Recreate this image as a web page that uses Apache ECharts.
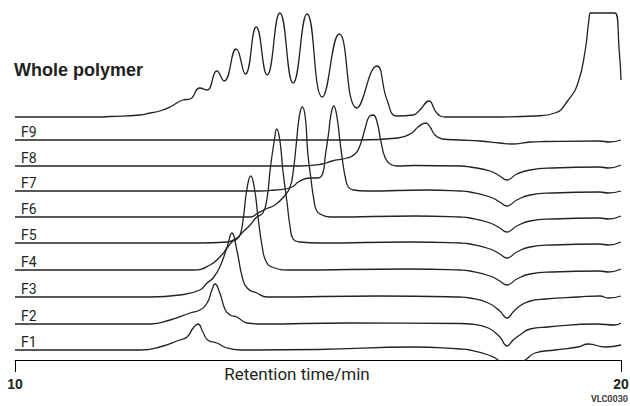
<!DOCTYPE html>
<html><head><meta charset="utf-8">
<script src="https://cdn.jsdelivr.net/npm/echarts@6/dist/echarts.min.js"></script>
<style>html,body{margin:0;padding:0;background:#fff}#c{width:630px;height:406px}</style>
</head><body><div id="c"></div>
<script>
// Retention time (min) vs detector signal height above each trace's own baseline
const traceNames = ['Whole polymer','F9','F8','F7','F6','F5','F4','F3','F2','F1'];
const baselineOffsets = [243,220,194,169,143,117,90,63,36,10];
const xTicks = [10,20];
const axisTitle = 'Retention time/min';

const wholePolymer = [[10.00,0],[11.40,0],[11.57,0.5],[12.06,2],[12.23,4],[12.39,6],[12.56,10],[12.77,17],[12.89,18],[13.05,29],[13.17,27],[13.33,46],[13.45,36],[13.65,68],[13.80,43],[13.98,90],[14.16,42],[14.37,104],[14.59,34],[14.82,103],[15.07,20],[15.35,83],[15.64,9],[15.97,51],[16.14,17],[16.30,1],[16.57,2],[16.68,7],[16.83,16],[16.96,4],[17.10,0],[18.00,0],[18.58,1],[18.91,4],[19.13,17],[19.29,34],[19.41,67],[19.47,97],[19.50,104],[19.90,104],[19.97,67],[20.00,37]];
const f9 = [[10,0],[15.69,0],[16.32,2],[16.55,7],[16.65,13],[16.78,17],[16.85,13],[16.93,5],[17.05,1],[17.34,0],[17.67,-1],[18.00,-3],[18.20,-4],[18.50,-2],[18.75,-1.5],[19.65,-1],[19.81,-2],[20,0]];
const f8 = [[10,0],[14.70,0],[15.07,2],[15.23,5],[15.48,8],[15.61,12],[15.69,20],[15.78,38],[15.84,49],[15.91,51],[15.97,45],[16.04,24],[16.11,8],[16.19,2],[16.30,0],[16.6,0.5],[17.34,0],[17.51,-1],[17.84,-5],[18.00,-10],[18.12,-14],[18.28,-8],[18.50,-4],[18.87,-2],[19.65,-1],[19.79,-2],[20,1]];
const f7 = [[10,0],[14.04,0],[14.29,1],[14.54,3],[14.70,10],[14.87,13],[15.00,13],[15.08,18],[15.12,35],[15.18,60],[15.21,75],[15.26,85],[15.31,75],[15.36,51],[15.41,28],[15.45,14],[15.50,4],[15.58,1],[15.81,0],[16.8,1],[17.34,0],[17.51,-1],[17.84,-6],[18.00,-11],[18.12,-15],[18.28,-9],[18.50,-4],[18.87,-2],[19.65,-1],[19.79,-2],[20,0]];
const f6 = [[10,0],[13.88,0],[14.01,4],[14.14,8],[14.29,12],[14.46,22],[14.54,30],[14.59,45],[14.64,72],[14.69,100],[14.74,110],[14.79,100],[14.83,65],[14.88,40],[14.93,18],[14.98,6],[15.07,2],[15.20,0],[16.6,1],[17.34,0],[17.51,-1],[17.84,-6],[18.00,-11],[18.12,-15],[18.28,-9],[18.50,-4],[18.87,-2],[19.65,-1],[19.79,-2],[20,1]];
const f5 = [[10,0],[13.05,0],[13.50,1],[13.66,5],[13.76,11],[13.88,18],[13.99,26],[14.09,30],[14.16,45],[14.21,73],[14.28,103],[14.32,114],[14.37,103],[14.42,73],[14.49,40],[14.54,16],[14.59,4],[14.70,1],[15.03,0],[16.5,1],[17.34,0],[17.51,-1],[17.84,-6],[18.00,-11],[18.12,-15],[18.28,-9],[18.50,-4],[18.87,-2],[19.65,-1],[19.79,-2],[20,1]];
const f4 = [[10,0],[12.94,0],[13.22,5],[13.38,13],[13.50,22],[13.58,28],[13.66,31],[13.72,36],[13.77,53],[13.83,82],[13.89,94],[13.95,82],[14.01,53],[14.08,23],[14.14,9],[14.24,3],[14.54,0],[16.5,1],[17.34,0],[17.51,-1],[17.84,-6],[18.00,-11],[18.12,-15],[18.28,-9],[18.50,-4],[18.87,-2],[19.65,-1],[19.79,-2],[20,1]];
const f3 = [[10,0],[12.23,0],[12.72,2],[13.05,7],[13.17,14],[13.27,19],[13.38,30],[13.50,50],[13.58,64],[13.66,47],[13.75,20],[13.83,9],[13.99,4],[14.16,0],[16.0,1],[17.34,0],[17.51,-1],[17.81,-6],[18.00,-14],[18.12,-21],[18.22,-15],[18.33,-9],[18.50,-4],[18.75,-2],[19.3,0],[19.65,1],[19.79,-1],[20,1]];
const f2 = [[10,0],[12.23,0],[12.56,4],[12.89,11],[13.05,14],[13.17,21],[13.25,34],[13.30,40],[13.38,31],[13.47,14],[13.55,9],[13.66,7],[13.83,1],[14.04,0],[15.5,1],[17.34,0.5],[17.51,0],[17.81,-4],[18.00,-13],[18.12,-22],[18.22,-16],[18.33,-11],[18.50,-5],[18.79,-3],[19.6,0],[19.9,-1],[20,1]];
const f1 = [[10,0],[12.06,0],[12.39,3],[12.72,10],[12.84,13],[12.94,22],[13.02,26],[13.10,18],[13.18,10],[13.33,7],[13.50,2],[13.71,0],[15.0,0.5],[16.57,3],[17.34,1],[17.51,0],[17.81,-5],[17.97,-10],[18.12,-24],[18.28,-14],[18.42,-10],[18.58,-3],[18.91,0],[19.29,3],[19.46,6],[19.74,3],[20,5]];

const traces = [wholePolymer,f9,f8,f7,f6,f5,f4,f3,f2,f1];
const INK = '#231f20';

const chart = echarts.init(document.getElementById('c'), null, {renderer:'svg'});
chart.setOption({
  animation:false,
  backgroundColor:'#fff',
  grid:{left:15,right:9,top:0,bottom:46,containLabel:false,outerBoundsMode:'none'},
  xAxis:{type:'value',min:xTicks[0],max:xTicks[1],interval:xTicks[1]-xTicks[0],
    axisLine:{lineStyle:{color:'#000',width:1}},
    axisTick:{show:true,length:12,lineStyle:{color:'#000',width:1}},
    splitLine:{show:false},
    axisLabel:{margin:17,color:INK,fontFamily:'Liberation Sans',fontWeight:'bold',fontSize:14},
    name:axisTitle,nameLocation:'middle',nameGap:5,nameMoveOverlap:false,
    nameTextStyle:{color:INK,fontFamily:'Roboto',fontSize:17,verticalAlign:'top',padding:[0,42,0,0]}
  },
  yAxis:{type:'value',min:0,max:360,show:false},
  series: traces.map((pts,i)=>({
    type:'line',name:traceNames[i],
    data:pts.map(p=>[p[0],baselineOffsets[i]+p[1]]),
    smooth:0.5,symbol:'none',clip:true,silent:true,
    lineStyle:{color:'#222',width:1.3}
  }))
});

const g = [];
traceNames.forEach((n,i)=>{
  const p = chart.convertToPixel({gridIndex:0},[xTicks[0],baselineOffsets[i]]);
  if(i===0){
    g.push({type:'text',left:14,top:p[1]-56,style:{text:n,font:"bold 18px 'Liberation Sans',Arial,sans-serif",fill:INK}});
  } else {
    g.push({type:'text',x:p[0]+6,y:p[1]-1,style:{text:n,font:"14px Roboto,sans-serif",fill:INK,verticalAlign:'bottom'}});
  }
});
g.push({type:'text',right:2,top:394,style:{text:'VLC0030',font:"bold 9px Roboto,sans-serif",fill:'#444'}});
chart.setOption({graphic:g});
</script></body></html>
